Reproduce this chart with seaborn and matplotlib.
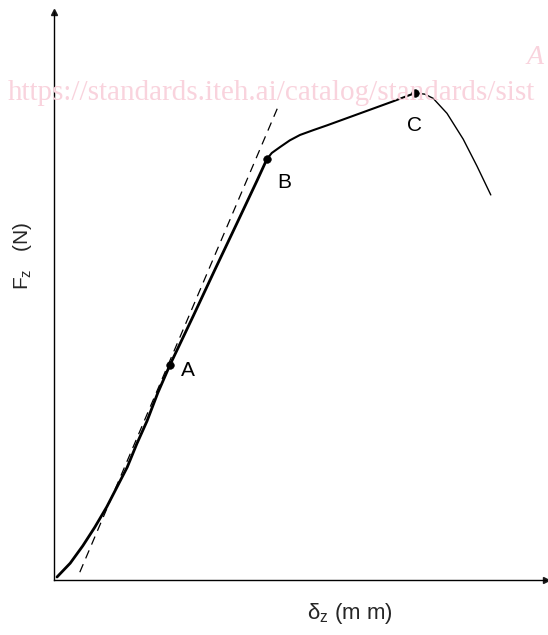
"""
Curva força x deslocamento (Fz x dz) com pontos A, B, C e tangente tracejada
"""

import matplotlib

matplotlib.use("Agg")
import matplotlib.pyplot as plt
import pandas as pd
import seaborn as sns

# ============================================
# Dados (unidades arbitrárias)
# ============================================
delta_mm = [0.05, 0.27, 0.48, 0.68, 0.88, 1.05, 1.22, 1.38, 1.55, 1.73, 1.93,
            2.32, 2.68, 3.05, 3.38, 3.55, 3.63, 3.77, 3.93, 4.10, 4.32, 4.55,
            5.10, 5.65, 6.02, 6.18, 6.32, 6.55, 6.82, 7.05, 7.28]
force_n = [0.05, 0.28, 0.57, 0.88, 1.22, 1.55, 1.88, 2.27, 2.65, 3.12, 3.58,
           4.40, 5.17, 5.95, 6.65, 7.02, 7.12, 7.22, 7.33, 7.42, 7.50, 7.58,
           7.78, 7.98, 8.12, 8.10, 8.03, 7.78, 7.35, 6.90, 6.42]

idx_b = 15  # posição do ponto B na lista
idx_c = 24  # posição do ponto C na lista

point_names = ["A", "B", "C"]
point_x = [1.93, 3.55, 6.02]
point_y = [3.58, 7.02, 8.12]

tangent_x = [0.43, 3.73]
tangent_y = [0.13, 7.88]

x_max = 8.2
y_max = 9.47

# ============================================
# Estilo
# ============================================
sns.set_theme(style="white")
plt.rcParams["font.family"] = ["Liberation Sans", "DejaVu Sans"]

fig = plt.figure(figsize=(5.48, 6.35), dpi=100)
ax = fig.add_axes([54 / 548, 55 / 635, 492 / 548, 568 / 635])

df = pd.DataFrame({"delta": delta_mm, "forca": force_n})

# Trechos da curva com espessuras diferentes
trechos = [
    (df.iloc[: idx_b + 1], 2.0),
    (df.iloc[idx_b: idx_c + 1], 1.5),
    (df.iloc[idx_c:], 1.0),
]
for trecho, lw in trechos:
    sns.lineplot(data=trecho, x="delta", y="forca", sort=False, estimator=None,
                 color="black", linewidth=lw, ax=ax, zorder=3)

# Tangente tracejada
ax.plot(tangent_x, tangent_y, color="black", linewidth=0.9, dashes=(7, 5), zorder=3)

# Pontos A, B, C
sns.scatterplot(x=point_x, y=point_y, color="black", s=30, edgecolor="black",
                ax=ax, zorder=4)
offsets = {"A": (0.30, -0.08), "B": (0.28, -0.40), "C": (-0.02, -0.55)}
for nome, px, py in zip(point_names, point_x, point_y):
    dx, dy = offsets[nome]
    ax.text(px + dx, py + dy, nome, fontsize=15, ha="center", va="center",
            color="black")

# Eixos
ax.set_xlim(0, x_max)
ax.set_ylim(0, y_max)
ax.set_xticks([])
ax.set_yticks([])
ax.set_xlabel("")
ax.set_ylabel("")
sns.despine(ax=ax, top=True, right=True)
for lado in ["left", "bottom"]:
    ax.spines[lado].set_color("black")
    ax.spines[lado].set_linewidth(1.0)
ax.plot(1, 0, ">k", markersize=5, transform=ax.transAxes, clip_on=False)
ax.plot(0, 1, "^k", markersize=5, transform=ax.transAxes, clip_on=False)

# Rótulos dos eixos
fig.text(22 / 548, 1 - 256 / 635, "F$_\\mathregular{z}$   (N)", rotation=90,
         fontsize=15, ha="center", va="center")
fig.text(350 / 548, 1 - 614 / 635, "δ$_\\mathregular{z}$ (m m)", fontsize=16,
         ha="center", va="center")

# Marca d'água
fig.text(8 / 548, 1 - 100 / 635, "https://standards.iteh.ai/catalog/standards/sist",
         fontsize=21, family=["Liberation Serif", "DejaVu Serif"], color="#f9d3dd",
         ha="left", va="baseline", zorder=0)
fig.text(527 / 548, 1 - 64 / 635, "A", fontsize=20, style="italic",
         family=["Liberation Serif", "DejaVu Serif"], color="#f9d3dd",
         ha="left", va="baseline", zorder=0)

fig.savefig("out.png", dpi=100)
plt.close(fig)
